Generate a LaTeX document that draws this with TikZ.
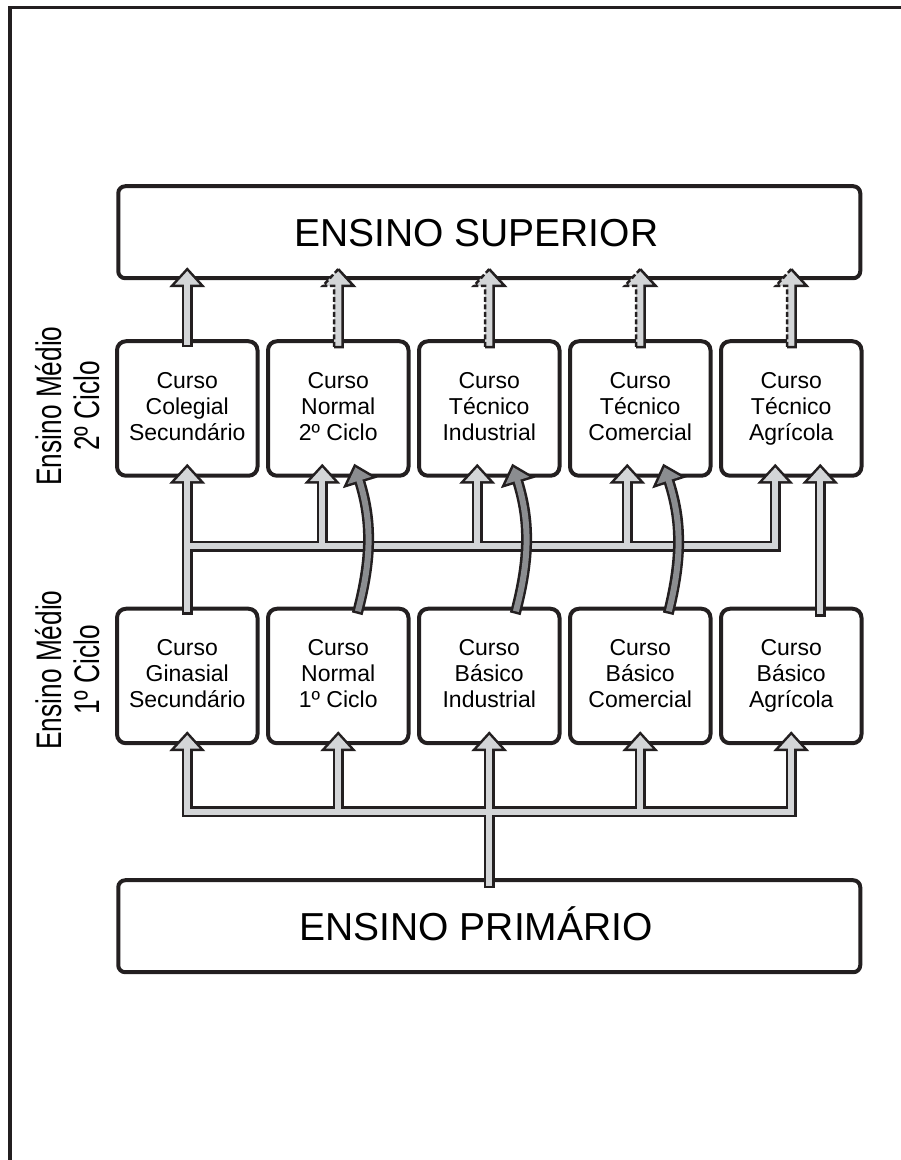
\documentclass[tikz,border=0pt]{standalone}
\usepackage{fontspec}
\setmainfont{Liberation Sans}
\newfontfamily\narrowfont[FakeStretch=0.74]{Liberation Sans}
\usetikzlibrary{arrows.meta,positioning,calc}
\definecolor{ink}{HTML}{231F20}
\definecolor{pale}{HTML}{D3D5D7}
\definecolor{slate}{HTML}{8B8D90}

\begin{document}
\begin{tikzpicture}[x=1pt,y=1pt,node distance=6.5pt,every node/.style={align=center},
tier/.style={draw=ink,line width=4pt,rounded corners=7pt,fill=white,minimum width=742pt,minimum height=92pt,text height=28pt,text depth=0pt,font=\fontsize{39}{41}\selectfont,execute at end node=\hspace*{26pt}},
course/.style={draw=ink,line width=4pt,rounded corners=9pt,fill=white,minimum width=140.5pt,minimum height=134.5pt,font=\fontsize{23}{26}\selectfont,execute at end node=\vphantom{g}},
sidenote/.style={rotate=90,font=\narrowfont\fontsize{35.5}{38}\selectfont},
tubeout/.style={draw=ink,line width=11pt,>={Triangle[width=35pt,length=20pt]}},
tubein/.style={draw=pale,line width=6pt,>={Triangle[width=24pt,length=13.7pt]},shorten >=3.8pt,shorten <=2.5pt},
curvein/.style={tubein,draw=slate},
rim/.style={draw=ink,line width=2.5pt,line join=miter}]
\useasboundingbox (0,0) rectangle (901,1160);
\draw[ink,line width=3.5pt] (10,0) -- (10,1152.5) -- (901,1152.5);

\node[course] (c1) at (187.25,751.5) {Curso\\Colegial\\Secundário};
\node[course,right=of c1] (c2) {Curso\\Normal\\2º Ciclo};
\node[course,right=of c2] (c3) {Curso\\Técnico\\Industrial};
\node[course,right=of c3] (c4) {Curso\\Técnico\\Comercial};
\node[course,right=of c4] (c5) {Curso\\Técnico\\Agrícola};
\node[course,below=129pt of c1] (g1) {Curso\\Ginasial\\Secundário};
\node[course,right=of g1] (g2) {Curso\\Normal\\1º Ciclo};
\node[course,right=of g2] (g3) {Curso\\Básico\\Industrial};
\node[course,right=of g3] (g4) {Curso\\Básico\\Comercial};
\node[course,right=of g4] (g5) {Curso\\Básico\\Agrícola};
\node[tier,above=59pt of c3] (sup) {ENSINO SUPERIOR};
\node[tier,below=133pt of g3] (prim) {ENSINO PRIMÁRIO};
\node[sidenote] (mid2) at ([xshift=-47pt,yshift=2.5pt]c1.west) {Ensino Médio\\2º Ciclo};
\node[sidenote] (mid1) at ([xshift=-47pt,yshift=6pt]g1.west) {Ensino Médio\\1º Ciclo};

\coordinate (lbus) at ($(g3.south)!0.5!(prim.north)$);
\coordinate (ubus) at ($(c1.south)!0.53!(g1.north)$);
\coordinate (k2) at ([xshift=-16pt]c2.south);
\coordinate (k3) at ([xshift=-12pt]c3.south);
\coordinate (k4) at ([xshift=-13pt]c4.south);
\coordinate (k5) at ([xshift=-16pt]c5.south);
\coordinate (s1) at (c1.north |- sup.south);

\foreach \pass/\lead in {tubeout/0pt,tubein/3.8pt}{
\draw[\pass,<->,shorten <=\lead] ([yshift=14pt]g1.south) -- (g1.south |- lbus) -- (g5.south |- lbus) -- ([yshift=14pt]g5.south);
\draw[\pass,->] (g2.south |- lbus) -- ([yshift=14pt]g2.south);
\draw[\pass,->] (g4.south |- lbus) -- ([yshift=14pt]g4.south);
\draw[\pass,->] ([yshift=-10pt]prim.north) -- ([yshift=14pt]g3.south);
\draw[\pass,->] ([yshift=-8pt]g1.north) -- ([yshift=14pt]c1.south);
\draw[\pass,->] (c1.south |- ubus) -- (k5 |- ubus) -- ([yshift=14pt]k5);
\draw[\pass,->] (k2 |- ubus) -- ([yshift=14pt]k2);
\draw[\pass,->] (k3 |- ubus) -- ([yshift=14pt]k3);
\draw[\pass,->] (k4 |- ubus) -- ([yshift=14pt]k4);
\draw[\pass,->] ([xshift=29pt,yshift=-10pt]g5.north) -- ([xshift=29pt,yshift=14pt]c5.south);
\draw[\pass,->] ([yshift=-8pt]c1.north) -- ([yshift=13pt]s1);
}
\foreach \pass in {tubeout,curvein}
  \foreach \a/\b/\p/\q in {g2/c2/19/16,g3/c3/26/23,g4/c4/28/23}
    \draw[\pass,->] ([xshift=\p pt,yshift=-7pt]\a.north) to[bend right=16] ([xshift=\q pt,yshift=14pt]\b.south);

\foreach \n in {c2,c3,c4,c5}{
\coordinate (lo) at ([yshift=-8pt]\n.north);
\coordinate (hi) at (\n.north |- sup.south);
\fill[pale] ($(lo)+(-4.25,0)$) -- ($(hi)+(-4.25,-5.75)$) -- ($(hi)+(-15.5,-5.75)$) -- ($(hi)+(0,11.1)$) -- ($(hi)+(15.5,-5.75)$) -- ($(hi)+(4.25,-5.75)$) -- ($(lo)+(4.25,0)$) -- cycle;
\draw[rim] ($(lo)+(-4.25,0)$) -- ($(lo)+(4.25,0)$) -- ($(hi)+(4.25,-5.75)$) -- ($(hi)+(15.5,-5.75)$) -- ($(hi)+(0,11.1)$);
\draw[rim,dash pattern=on 5pt off 2.5pt] ($(hi)+(0,11.1)$) -- ($(hi)+(-15.5,-5.75)$) -- ($(hi)+(-4.25,-5.75)$) -- ($(lo)+(-4.25,0)$);
}
\end{tikzpicture}
\end{document}
